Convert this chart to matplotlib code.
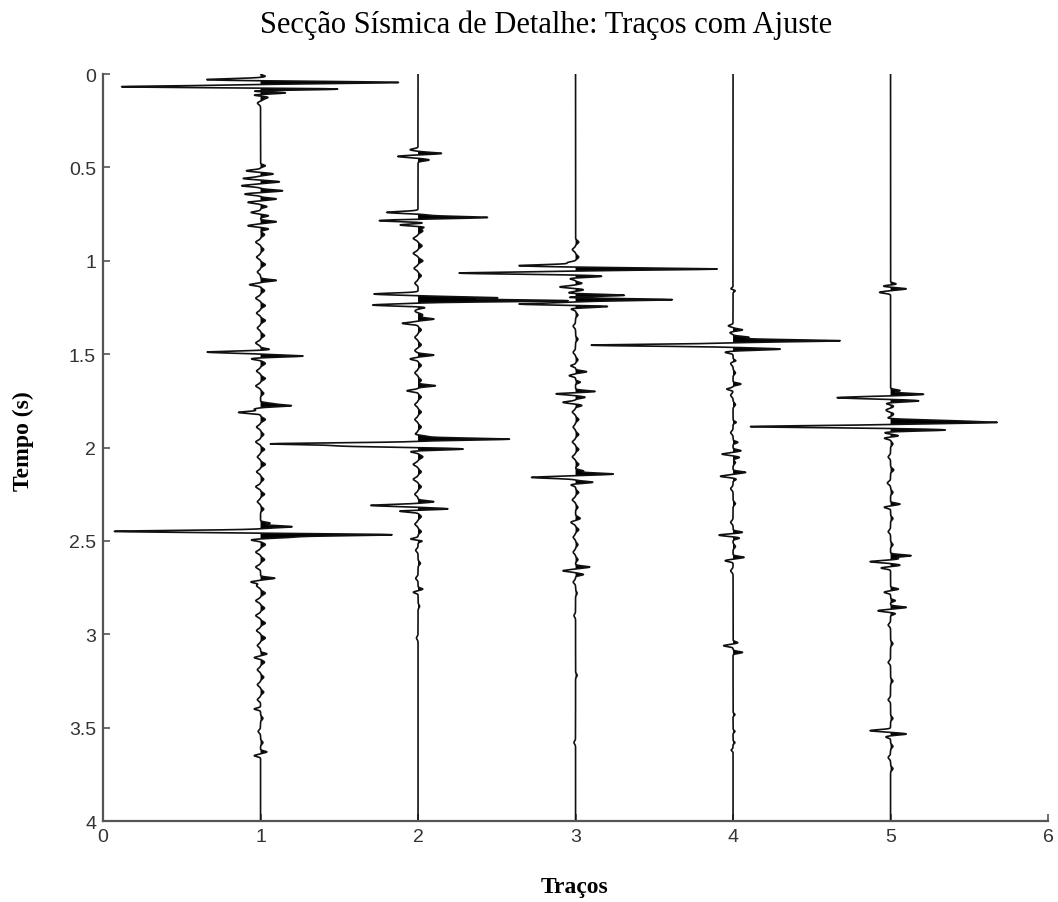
import numpy as np
import matplotlib.pyplot as plt

# trace positions on the x axis
trace_pos = [1, 2, 3, 4, 5]

# reflection lobes: time (s), peak deflection (trace units, + = right)
t1_ev = [0.012, 0.030, 0.045, 0.068, 0.080, 0.092, 0.100, 0.112, 0.124,
         0.491, 0.518, 0.535, 0.559, 0.577, 0.598, 0.625, 0.643, 0.669, 0.687, 0.710,
         0.741, 0.759, 0.791, 0.812, 0.830,
         1.105, 1.128, 1.475, 1.489, 1.510, 1.525,
         1.765, 1.776, 1.795, 1.812,
         2.405, 2.424, 2.449, 2.467, 2.480, 2.495,
         2.700, 2.720, 3.105, 3.125, 3.400, 3.630, 3.650]
a1_ev = [0.03, -0.35, 0.88, -0.91, 0.54, -0.12, 0.19, -0.05, 0.04,
         0.03, -0.09, 0.08, -0.11, 0.12, -0.12, 0.14, -0.10, 0.10, -0.08, 0.04,
         -0.06, 0.05, 0.10, -0.08, 0.05,
         0.10, -0.07, 0.06, -0.34, 0.27, -0.06,
         0.06, 0.19, -0.04, -0.14,
         0.06, 0.20, -0.93, 0.83, 0.18, -0.06,
         0.09, -0.06, 0.04, -0.04, -0.04, 0.04, -0.04]

t2_ev = [0.405, 0.425, 0.441, 0.460,
         0.741, 0.755, 0.768, 0.785, 0.797, 0.808, 0.820,
         1.178, 1.198, 1.214, 1.237, 1.250,
         1.312, 1.335, 1.505, 1.526, 1.669, 1.696,
         1.940, 1.955, 1.980, 1.992, 2.008, 2.022,
         2.290, 2.310, 2.329, 2.340, 2.490, 2.500, 2.758, 2.775]
a2_ev = [-0.05, 0.15, -0.13, 0.07,
         -0.20, 0.05, 0.44, -0.25, 0.05, -0.12, 0.04,
         -0.28, 0.50, 0.95, -0.29, 0.05,
         0.10, -0.10, 0.10, -0.05, 0.11, -0.07,
         0.06, 0.58, -0.91, -0.45, 0.29, -0.05,
         0.10, -0.30, 0.20, -0.13, -0.05, 0.03, 0.03, -0.03]

t3_ev = [1.010, 1.026, 1.044, 1.066, 1.083, 1.095,
         1.120, 1.140, 1.155, 1.172, 1.185, 1.196, 1.208, 1.232, 1.244, 1.258,
         1.562, 1.594, 1.615, 1.650,
         1.700, 1.712, 1.731, 1.758, 1.775,
         2.125, 2.142, 2.160, 2.186, 2.200,
         2.640, 2.660, 2.680]
a3_ev = [-0.05, -0.36, 0.90, -0.74, 0.17, -0.04,
         0.04, -0.10, 0.05, -0.05, 0.32, -0.10, 0.62, -0.37, 0.22, -0.03,
         -0.03, 0.07, -0.04, 0.03,
         0.13, -0.13, 0.06, -0.08, 0.04,
         0.05, 0.24, -0.28, 0.11, -0.03,
         0.09, -0.08, 0.05]

t4_ev = [1.150, 1.160, 1.348, 1.370, 1.385,
         1.410, 1.428, 1.452, 1.473, 1.490, 1.535,
         1.660, 1.687, 1.865,
         1.972, 2.017, 2.035, 2.053, 2.133, 2.154, 2.170,
         2.454, 2.469, 2.485, 2.588, 2.606,
         3.045, 3.061, 3.097, 3.430, 3.520, 3.580, 3.620]
a4_ev = [-0.015, 0.015, -0.03, 0.06, -0.02,
         0.10, 0.68, -0.90, 0.30, -0.05, 0.02,
         0.05, -0.04, 0.02,
         0.03, 0.05, -0.07, 0.04, 0.08, -0.08, 0.02,
         0.06, -0.09, 0.04, 0.07, -0.05,
         0.03, -0.06, 0.06, 0.012, 0.012, 0.012, -0.012]

t5_ev = [1.125, 1.135, 1.150, 1.169,
         1.695, 1.715, 1.733, 1.750, 1.765,
         1.842, 1.856, 1.866, 1.888, 1.906, 1.920, 1.937, 1.950,
         2.303, 2.320,
         2.579, 2.595, 2.611, 2.630, 2.645,
         2.758, 2.775, 2.820, 2.856, 2.874, 2.890,
         3.516, 3.534, 3.550]
a5_ev = [0.04, -0.05, 0.10, -0.07,
         0.06, 0.21, -0.34, 0.18, -0.03,
         -0.02, 0.30, 0.63, -0.89, 0.35, -0.04, 0.05, -0.04,
         0.06, -0.04,
         0.13, 0.05, -0.13, 0.06, -0.06,
         0.05, -0.04, 0.03, 0.10, -0.08, 0.03,
         -0.13, 0.10, -0.03]

# low-level wiggle between reflections: time (s), deflection
t1_bg = [0.135, 0.155,
         0.86, 0.90, 0.94, 0.98, 1.02, 1.06,
         1.16, 1.20, 1.24, 1.28, 1.32, 1.36, 1.40, 1.44,
         1.55, 1.59, 1.63, 1.67, 1.71,
         1.85, 1.89, 1.93, 1.97, 2.01, 2.05, 2.09, 2.13, 2.17, 2.21, 2.25, 2.29, 2.33,
         2.52, 2.56, 2.60, 2.64, 2.74, 2.78, 2.82, 2.86, 2.90, 2.94, 2.98, 3.02, 3.06,
         3.15, 3.19, 3.23, 3.27, 3.31, 3.35, 3.45, 3.52, 3.58]
a1_bg = [0.02, -0.02,
         0.025, -0.03, 0.02, -0.025, 0.03, -0.02,
         0.025, -0.03, 0.03, -0.025, 0.03, -0.02, 0.025, -0.03,
         0.03, -0.025, 0.03, -0.03, 0.02,
         0.03, -0.025, 0.02, -0.03, 0.025, -0.02, 0.03, -0.025, 0.02, -0.03, 0.025, -0.02, 0.02,
         0.03, -0.03, 0.025, -0.03, -0.025, 0.03, -0.03, 0.025, -0.03, 0.03, -0.025, 0.03, -0.02,
         0.025, -0.02, 0.02, -0.02, 0.02, -0.02, 0.015, -0.015, 0.015]

t2_bg = [0.84, 0.88, 0.92, 0.96, 1.00, 1.04, 1.08, 1.12,
         1.27, 1.29, 1.37, 1.41, 1.45, 1.48, 1.56, 1.60, 1.64,
         1.73, 1.77, 1.81, 1.85, 1.89, 1.93,
         2.05, 2.09, 2.13, 2.17, 2.21, 2.25, 2.37, 2.41, 2.45,
         2.55, 2.62, 2.70, 2.85, 3.02]
a2_bg = [0.03, -0.03, 0.025, -0.03, 0.03, -0.025, 0.02, -0.02,
         -0.02, 0.03, 0.02, -0.02, 0.02, -0.02, 0.02, -0.02, 0.02,
         0.02, -0.02, 0.02, -0.02, 0.02, -0.02,
         0.03, -0.03, 0.02, -0.03, 0.02, -0.02, 0.02, -0.02, 0.02,
         -0.015, 0.015, -0.015, 0.01, -0.01]

t3_bg = [0.90, 0.94, 0.98,
         1.29, 1.35, 1.42, 1.49, 1.53,
         1.81, 1.85, 1.89, 1.93, 1.97, 2.01, 2.05, 2.09,
         2.24, 2.28, 2.32, 2.38, 2.40, 2.44, 2.48, 2.52, 2.56, 2.60,
         2.72, 2.78, 2.90, 3.22, 3.58]
a3_bg = [0.02, -0.02, 0.02,
         0.015, -0.015, 0.015, -0.015, 0.015,
         -0.02, 0.02, -0.015, 0.02, -0.02, 0.02, -0.02, 0.02,
         0.02, -0.02, 0.015, 0.03, -0.03, 0.02, -0.015, 0.015, -0.015, 0.015,
         -0.015, 0.01, -0.01, 0.01, -0.01]

t4_bg = [1.55, 1.60, 1.72, 1.77, 1.92, 2.08, 2.22, 2.30, 2.40, 2.53, 2.66]
a4_bg = [-0.015, 0.015, -0.015, 0.015, -0.015, 0.015, -0.015, 0.015, -0.015, 0.015, -0.015]

t5_bg = [1.78, 1.80, 1.82,
         1.98, 2.05, 2.12, 2.19, 2.24,
         2.38, 2.45, 2.52,
         2.95, 3.05, 3.15, 3.25, 3.35, 3.45,
         3.60, 3.66, 3.72]
a5_bg = [0.02, -0.03, 0.02,
         0.015, -0.015, 0.02, -0.02, 0.015,
         0.015, -0.015, 0.015,
         -0.015, 0.015, -0.015, 0.015, -0.015, 0.015,
         0.015, -0.015, 0.015]

ev_times = [t1_ev, t2_ev, t3_ev, t4_ev, t5_ev]
ev_amps = [a1_ev, a2_ev, a3_ev, a4_ev, a5_ev]
bg_times = [t1_bg, t2_bg, t3_bg, t4_bg, t5_bg]
bg_amps = [a1_bg, a2_bg, a3_bg, a4_bg, a5_bg]


def lobes(t, times, amps, width):
    s = np.zeros_like(t)
    for tt, aa in zip(times, amps):
        s += aa * np.exp(-0.5 * ((t - tt) / width) ** 2)
    return s


t = np.arange(0, 4.0001, 0.0004)

fig = plt.figure(figsize=(10.58, 9.03), dpi=100)
ax = fig.add_axes([0.0974, 0.0897, 0.8932, 0.8272])

for i, x0 in enumerate(trace_pos):
    s = lobes(t, ev_times[i], ev_amps[i], 0.005) + lobes(t, bg_times[i], bg_amps[i], 0.008)
    ax.fill_betweenx(t, x0, x0 + s, where=s > 0, interpolate=True, color='k', lw=0)
    ax.plot(x0 + s, t, color='#111111', lw=1.2)

ax.set_xlim(0, 6)
ax.set_ylim(4, 0)
ax.set_xticks(range(7))
ax.set_yticks(np.arange(0, 4.01, 0.5))
ax.set_yticklabels(['0', '0.5', '1', '1.5', '2', '2.5', '3', '3.5', '4'])
ax.tick_params(direction='in', length=5, width=1.2, color='#555555',
               labelcolor='#333333', labelsize=14, pad=5)
for lab in ax.get_xticklabels() + ax.get_yticklabels():
    lab.set_family(['Liberation Sans Narrow', 'Liberation Sans'])
for side in ['top', 'right']:
    ax.spines[side].set_visible(False)
for side in ['left', 'bottom']:
    ax.spines[side].set_color('#555555')
    ax.spines[side].set_linewidth(1.6)

fig.text(0.516, 0.964, 'Secção Sísmica de Detalhe: Traços com Ajuste',
         ha='center', va='baseline', fontsize=22, family='Liberation Serif')
fig.text(0.0217, 0.511, 'Tempo (s)', rotation=90, ha='center', va='center',
         fontsize=17, weight='bold', family='Liberation Serif')
fig.text(0.543, 0.0177, 'Traços', ha='center', va='center',
         fontsize=17, weight='bold', family='Liberation Serif')

fig.savefig('out.png', dpi=100)
